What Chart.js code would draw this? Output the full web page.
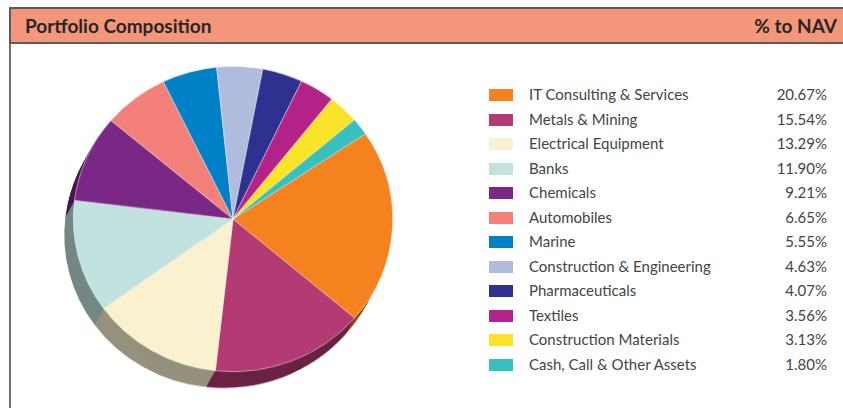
<!DOCTYPE html>
<html>
<head>
<meta charset="utf-8">
<script src="https://cdn.jsdelivr.net/npm/chart.js@4/dist/chart.umd.min.js"></script>
<style>
  html, body { margin: 0; padding: 0; background: #fff; width: 843px; height: 408px; overflow: hidden; }
  #frame { position: absolute; left: 9px; top: 8px; width: 834px; height: 400px; border-left: 2px solid #6e6e6e; }
  #header { position: absolute; left: 9px; top: 7px; width: 834px; height: 33px; background: #f4967a;
            border-top: 2px solid #5a5a5a; border-bottom: 2px solid #5a5a5a; border-left: 2px solid #5a5a5a;
            font-family: Lato, sans-serif; font-weight: 700; font-size: 19px; color: #262626; }
  #header .l { position: absolute; left: 14px; top: 5px; }
  #header .r { position: absolute; right: 8px; top: 5px; }
  #wrap { position: absolute; left: 53px; top: 59px; width: 340px; height: 340px; transform: scaleY(0.956); transform-origin: 180px 160px; }
  #legend { position: absolute; left: 489px; top: 83px; width: 340px; font-family: Lato, sans-serif; font-size: 15px; color: #444; }
  .row { position: relative; height: 24.55px; }
  .sw { position: absolute; left: 0; top: 6px; width: 24px; height: 12px; }
  .lab { position: absolute; left: 40px; top: 2px; white-space: nowrap; }
  .pct { position: absolute; right: 2px; top: 2px; }
</style>
</head>
<body>
<div id="frame"></div>
<div id="header"><span class="l">Portfolio Composition</span><span class="r">% to NAV</span></div>
<div id="wrap"><canvas id="c" width="340" height="340" style="width:340px;height:340px"></canvas></div>
<div id="legend"></div>
<script>
const categories = ["IT Consulting & Services", "Metals & Mining", "Electrical Equipment", "Banks", "Chemicals",
  "Automobiles", "Marine", "Construction & Engineering", "Pharmaceuticals", "Textiles",
  "Construction Materials", "Cash, Call & Other Assets"];
const values = [20.67, 15.54, 13.29, 11.90, 9.21, 6.65, 5.55, 4.63, 4.07, 3.56, 3.13, 1.80];
const valueLabels = ["20.67%", "15.54%", "13.29%", "11.90%", "9.21%", "6.65%", "5.55%", "4.63%", "4.07%", "3.56%", "3.13%", "1.80%"];
const colors = ["#f5821f", "#b33a73", "#faf1cf", "#c2e2e0", "#7a2786", "#f48179", "#0080c6", "#afbcde",
  "#2e3190", "#b5238a", "#f9e42a", "#38bfbf"];

function darken(hex, f) {
  const n = parseInt(hex.slice(1), 16);
  const r = Math.round(((n >> 16) & 255) * f), g = Math.round(((n >> 8) & 255) * f), b = Math.round((n & 255) * f);
  return `rgb(${r},${g},${b})`;
}

const extrude = {
  id: 'extrude',
  beforeDatasetsDraw(chart) {
    const ctx = chart.ctx;
    const meta = chart.getDatasetMeta(0);
    const steps = 18, dx = -9, dy = 17;
    for (let k = steps; k >= 1; k--) {
      meta.data.forEach((arc, i) => {
        ctx.save();
        ctx.beginPath();
        const ox = arc.x + dx * k / steps, oy = arc.y + dy * k / steps;
        ctx.moveTo(ox, oy);
        ctx.arc(ox, oy, arc.outerRadius, arc.startAngle, arc.endAngle);
        ctx.closePath();
        ctx.fillStyle = darken(colors[i], 0.6);
        ctx.fill();
        ctx.restore();
      });
    }
  }
};

new Chart(document.getElementById('c'), {
  type: 'pie',
  data: {
    labels: categories,
    datasets: [{ data: values, backgroundColor: colors, borderWidth: 0.6, borderColor: 'rgba(255,255,255,0.8)', hoverOffset: 0, offset: 0 }]
  },
  options: {
    responsive: false,
    animation: false,
    rotation: 56,
    layout: { padding: { left: 20, right: 0, top: 0, bottom: 20 } },
    plugins: { legend: { display: false }, tooltip: { enabled: false } },
    events: []
  },
  plugins: [extrude]
});

const lg = document.getElementById('legend');
categories.forEach((c, i) => {
  const row = document.createElement('div');
  row.className = 'row';
  row.innerHTML = `<div class="sw" style="background:${colors[i]}"></div><span class="lab"></span><span class="pct"></span>`;
  row.querySelector('.lab').textContent = c;
  row.querySelector('.pct').textContent = valueLabels[i];
  lg.appendChild(row);
});
</script>
</body>
</html>
